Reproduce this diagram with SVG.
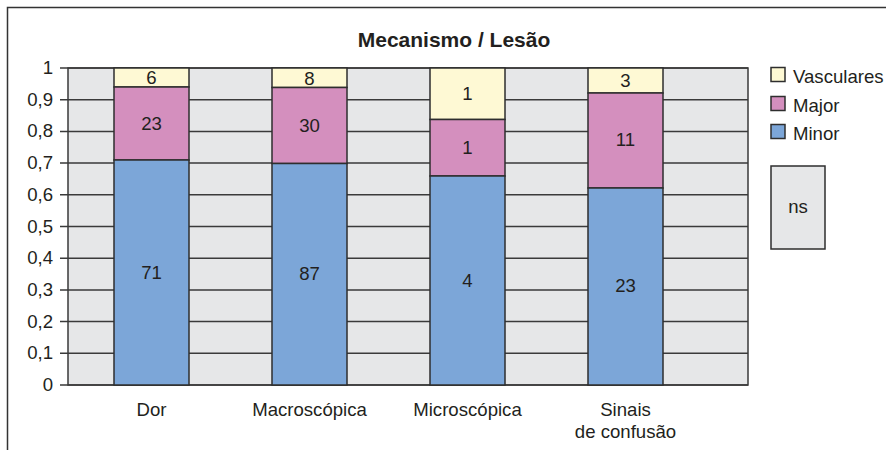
<svg xmlns="http://www.w3.org/2000/svg" width="886" height="450" viewBox="0 0 886 450">
<style>
text{font-family:"Liberation Sans",Arial,sans-serif;fill:#231f20}
.t{font-size:18.6px}
.c{text-anchor:middle}
.r{text-anchor:end}
.g{stroke:#3a3a3a;stroke-width:1.5;fill:none}
.bar{stroke:#2e2e2e;stroke-width:1.5}
.v{fill:#fef9d4}
.mj{fill:#d48fbe}
.mn{fill:#7ca6d8}
</style>
<rect x="0" y="0" width="886" height="450" fill="#fff"/>
<path d="M7.5 450V7.5H886" fill="none" stroke="#333" stroke-width="1.5"/>
<text x="454" y="46.5" class="c" style="font-size:21px;font-weight:bold">Mecanismo / Lesão</text>
<g id="plot">
<rect x="68" y="68" width="680" height="317" fill="#e6e7e8" stroke="#3a3a3a" stroke-width="1.5"/>
<path class="g" d="M60 68H748M60 99.7H748M60 131.4H748M60 163.1H748M60 194.8H748M60 226.5H748M60 258.2H748M60 289.9H748M60 321.6H748M60 353.3H748M60 385H748"/>
<g class="t r">
<text x="53" y="74">1</text>
<text x="53" y="105.7">0,9</text>
<text x="53" y="137.4">0,8</text>
<text x="53" y="169.1">0,7</text>
<text x="53" y="200.8">0,6</text>
<text x="53" y="232.5">0,5</text>
<text x="53" y="264.2">0,4</text>
<text x="53" y="295.9">0,3</text>
<text x="53" y="327.6">0,2</text>
<text x="53" y="359.3">0,1</text>
<text x="53" y="391">0</text>
</g>
</g>
<g id="bar-dor">
<rect class="bar v" x="114" y="68" width="75" height="19"/>
<rect class="bar mj" x="114" y="87" width="75" height="73"/>
<rect class="bar mn" x="114" y="160" width="75" height="225"/>
<text class="t c" x="151.5" y="84">6</text>
<text class="t c" x="151.5" y="130">23</text>
<text class="t c" x="151.5" y="279">71</text>
<text class="t c" x="151.5" y="416">Dor</text>
</g>
<g id="bar-macro">
<rect class="bar v" x="272" y="68" width="75" height="19.5"/>
<rect class="bar mj" x="272" y="87.5" width="75" height="76"/>
<rect class="bar mn" x="272" y="163.5" width="75" height="221.5"/>
<text class="t c" x="309.5" y="84.5">8</text>
<text class="t c" x="309.5" y="132">30</text>
<text class="t c" x="309.5" y="280">87</text>
<text class="t c" x="309.5" y="416">Macroscópica</text>
</g>
<g id="bar-micro">
<rect class="bar v" x="430" y="68" width="75" height="51.5"/>
<rect class="bar mj" x="430" y="119.5" width="75" height="56.5"/>
<rect class="bar mn" x="430" y="176" width="75" height="209"/>
<text class="t c" x="467.5" y="100">1</text>
<text class="t c" x="467.5" y="154">1</text>
<text class="t c" x="467.5" y="287">4</text>
<text class="t c" x="467.5" y="416">Microscópica</text>
</g>
<g id="bar-sinais">
<rect class="bar v" x="588" y="68" width="75" height="25"/>
<rect class="bar mj" x="588" y="93" width="75" height="95"/>
<rect class="bar mn" x="588" y="188" width="75" height="197"/>
<text class="t c" x="625.5" y="87">3</text>
<text class="t c" x="625.5" y="146">11</text>
<text class="t c" x="625.5" y="292">23</text>
<text class="t c" x="625.5" y="416">Sinais</text>
<text class="t c" x="625.5" y="438">de confusão</text>
</g>
<g id="legend">
<rect class="bar v" x="771" y="67.5" width="14" height="14"/>
<text class="t" x="793" y="83">Vasculares</text>
<rect class="bar mj" x="771" y="96.5" width="14" height="14"/>
<text class="t" x="793" y="112">Major</text>
<rect class="bar mn" x="771" y="124.5" width="14" height="14"/>
<text class="t" x="793" y="140">Minor</text>
</g>
<g id="ns">
<rect x="771" y="166" width="54" height="83" fill="#e6e7e8" stroke="#2e2e2e" stroke-width="1.5"/>
<text class="t c" x="798" y="213">ns</text>
</g>
</svg>
